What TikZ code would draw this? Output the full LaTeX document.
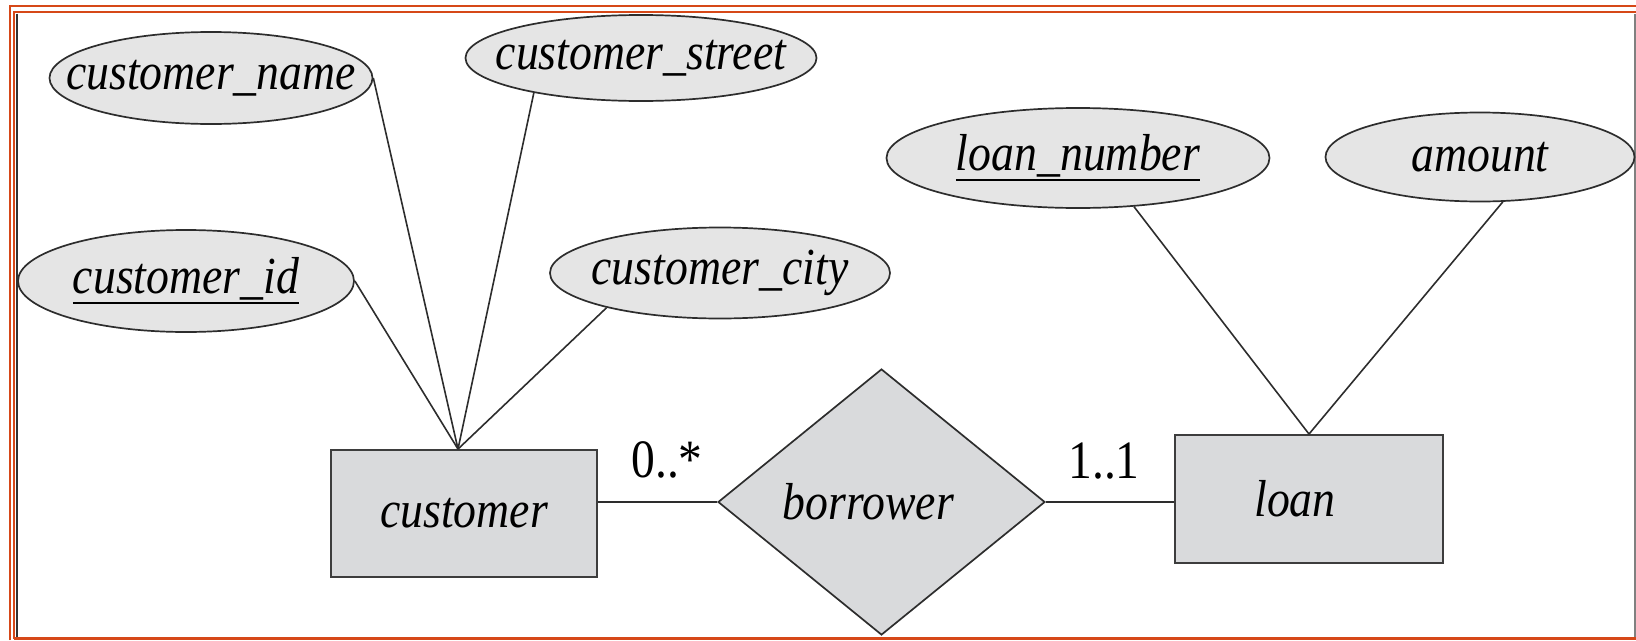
\documentclass[tikz,border=0pt]{standalone}
\usepackage{fontspec}
\setmainfont[FakeStretch=0.88]{Liberation Serif}
\usetikzlibrary{shapes.geometric}
\definecolor{frameorange}{RGB}{214,72,24}
\definecolor{attrfill}{RGB}{229,229,229}
\definecolor{entfill}{RGB}{217,218,220}
\definecolor{edgecol}{RGB}{45,45,45}
\newcommand{\keyline}[1]{\setbox0\hbox{#1}\rlap{\vrule height -8pt depth 10.5pt width \wd0}\box0}
\begin{document}
\begin{tikzpicture}[x=1pt,y=-1pt,
  attr/.style={ellipse, draw=edgecol, line width=1.7pt, fill=attrfill,
    inner xsep=-80pt, inner ysep=-15pt,
    font=\fontsize{52}{58}\selectfont\itshape},
  entity/.style={rectangle, draw=edgecol!80!gray, line width=1.9pt, fill=entfill, inner sep=0pt,
    font=\fontsize{52}{58}\selectfont\itshape},
  relship/.style={diamond, draw=edgecol, line width=1.7pt, fill=entfill, inner sep=0pt,
    font=\fontsize{52}{58}\selectfont\itshape},
  conn/.style={draw=edgecol, line width=1.6pt},
  card/.style={inner sep=0pt, font=\fontsize{54}{60}\selectfont}
]
\useasboundingbox (0,0) rectangle (1636,640);
% frame
\draw[frameorange, line width=2.6pt] (10,640) -- (10,6) -- (1636,6);
\draw[frameorange, line width=2.6pt] (14,638.5) -- (14,12) -- (1636,12);
\draw[frameorange, line width=2.6pt] (14,638.5) -- (1636,638.5);
\draw[black!80, line width=1.6pt] (17,13.5) -- (17,637);
\draw[gray, line width=2pt] (1635,13.5) -- (1635,637);
% attributes
\node[attr, minimum width=323, minimum height=92] (cname) at (211,78) {customer\_name};
\node[attr, minimum width=351, minimum height=86] (cstreet) at (641,58) {customer\_street};
\node[attr, minimum width=336, minimum height=102] (cid) at (186,281) {\keyline{customer\_id}};
\node[attr, minimum width=340, minimum height=91] (ccity) at (720,273) {customer\_city};
\node[attr, minimum width=383, minimum height=100] (lnum) at (1078,158) {\keyline{loan\_number}};
\node[attr, minimum width=309, minimum height=89] (amount) at (1480,157) {amount};
% entities and relationship
\node[entity, minimum width=266, minimum height=127] (customer) at (464,513.5) {customer};
\node[entity, minimum width=268, minimum height=128] (loan) at (1309,499) {\hspace*{-28pt}loan};
\node[relship, minimum width=327, minimum height=266] (borrower) at (881.5,502) {\hspace*{-26pt}borrower};
\coordinate (cjoin) at ([xshift=-6pt]customer.north);
% connectors
\draw[conn] (cname.east) -- (cjoin);
\draw[conn] (cstreet.198) -- (cjoin);
\draw[conn] (cid.east) -- (cjoin);
\draw[conn] (ccity.197.7) -- (cjoin);
\draw[conn] (lnum.-41) -- (loan.north);
\draw[conn] (amount.-63.4) -- (loan.north);
\draw[conn] (borrower.west -| customer.east) -- (borrower.west);
\draw[conn] (borrower.east) -- (borrower.east -| loan.west);
% cardinalities
\node[card] (c1) at (667,460) {0..*};
\node[card] (c2) at (1104,461) {1..1};
\end{tikzpicture}
\end{document}
